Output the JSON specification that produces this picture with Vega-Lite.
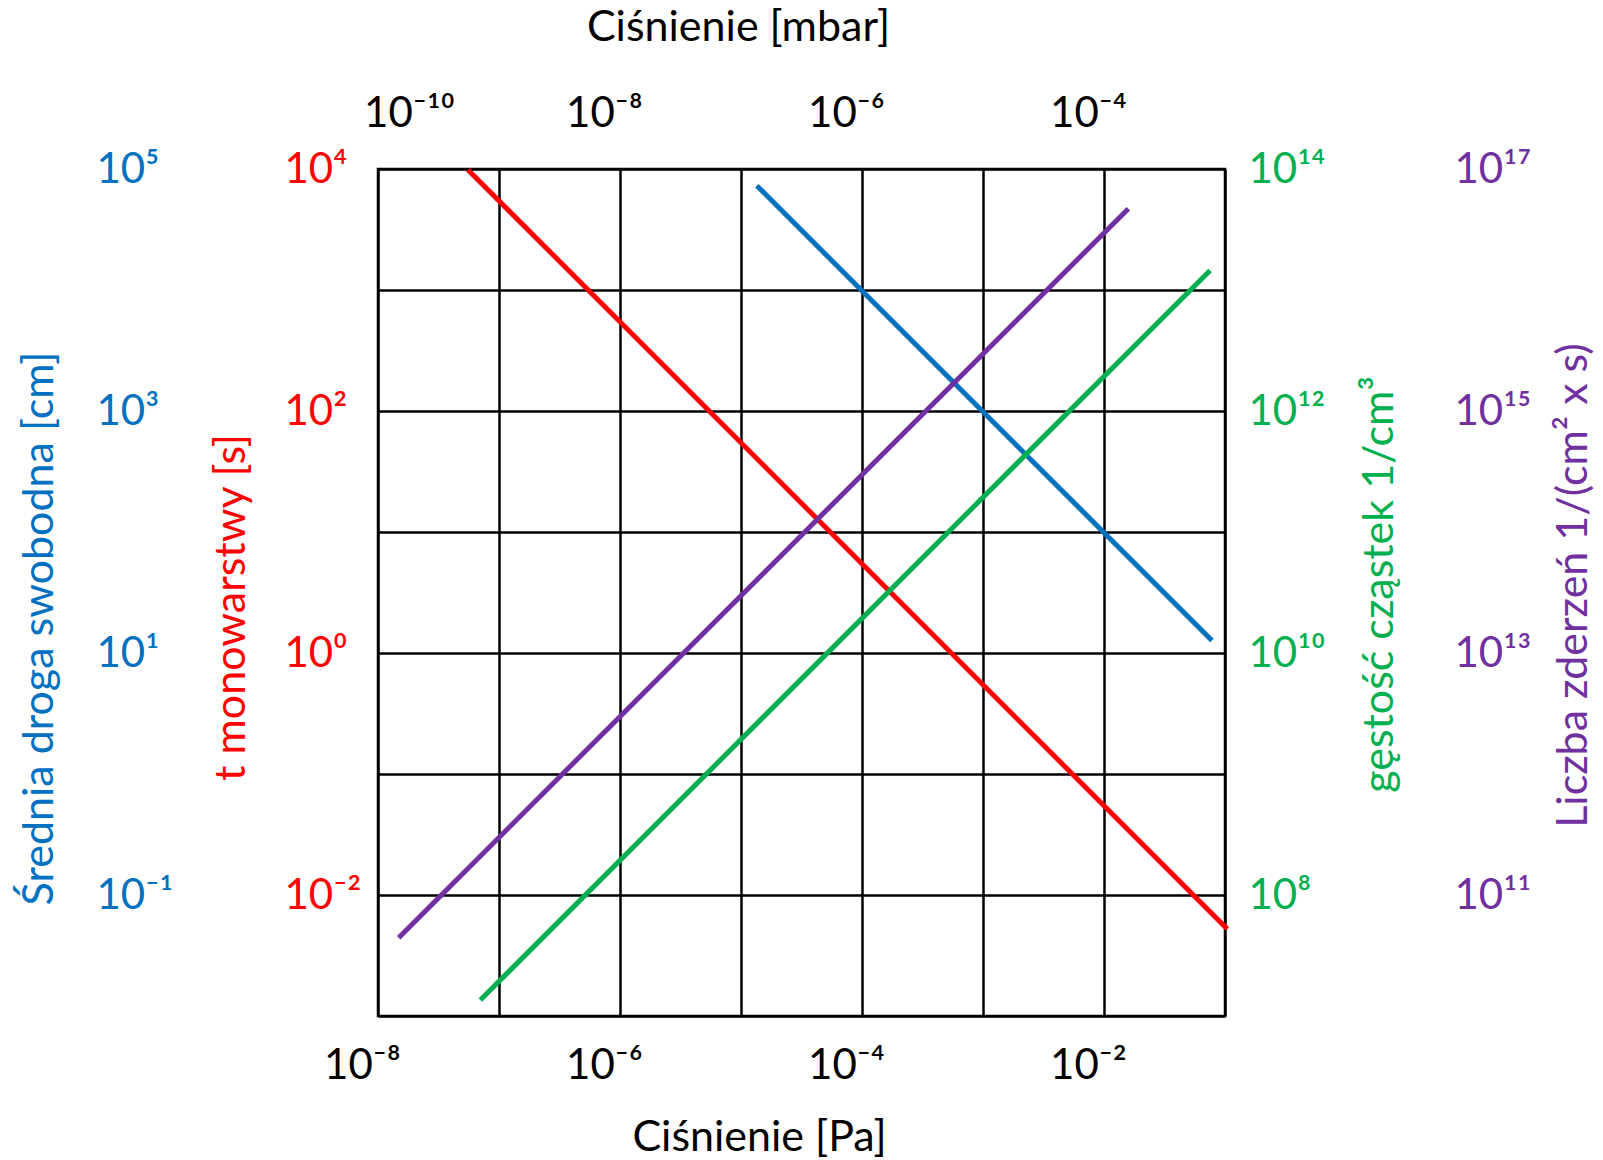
{
  "$schema": "https://vega.github.io/schema/vega-lite/v6.json",
  "width": 847,
  "height": 847,
  "autosize": {"type": "none"},
  "padding": {"left": 378, "top": 169, "right": 378, "bottom": 144},
  "background": "white",
  "config": {
    "view": {"stroke": "black", "strokeWidth": 2.5},
    "axis": {
      "ticks": false, "tickSize": 0, "domain": false,
      "labelFont": "Lato", "labelFontSize": 42,
      "titleFont": "Lato", "titleFontSize": 43, "titleFontWeight": "normal",
      "labelOverlap": false, "labelFlush": false, "labelBound": false,
      "grid": false, "titleAlign": "center", "titleBaseline": "middle",
      "gridColor": "black", "gridWidth": 2.5, "gridOpacity": 1
    }
  },
  "datasets": {
    "blue": [{"p": 1.352e-5, "v": 72800}, {"p": 0.078, "v": 12.68}],
    "red": [{"p": 5.53e-8, "v": 9860}, {"p": 0.1045, "v": 0.00524}],
    "green": [{"p": 7.01e-8, "v": 1.355e7}, {"p": 0.0752, "v": 1.452e13}],
    "purple": [{"p": 1.483e-8, "v": 4.44e10}, {"p": 0.01589, "v": 4.7e16}]
  },
  "layer": [
    {
      "data": {"name": "blue"},
      "mark": {"type": "line", "color": "#0070C0", "strokeWidth": 5, "strokeCap": "butt"},
      "encoding": {
        "x": {"field": "p", "type": "quantitative",
          "scale": {"type": "log", "domain": [1e-8, 0.1], "nice": false},
          "axis": {"orient": "top", "values": [1e-8, 1e-6, 1e-4, 1e-2],
            "labelExpr": "datum.value < 2e-8 ? '10⁻¹⁰' : datum.value < 2e-6 ? '10⁻⁸' : datum.value < 2e-4 ? '10⁻⁶' : '10⁻⁴'",
            "labelBaseline": "middle", "labelPadding": 56, "labelColor": "black",
            "labelOffset": {"condition": {"test": "datum.value < 2e-8", "value": 31}, "value": -16},
            "title": "Ciśnienie [mbar]", "titleColor": "black", "titleX": 360, "titleY": -142}},
        "y": {"field": "v", "type": "quantitative",
          "scale": {"type": "log", "domain": [0.01, 100000], "nice": false},
          "axis": {"orient": "left", "values": [0.1, 10, 1000, 100000],
            "labelExpr": "datum.value < 1 ? '10⁻¹' : datum.value < 100 ? '10¹' : datum.value < 10000 ? '10³' : '10⁵'",
            "labelAlign": "left", "labelPadding": 282, "labelColor": "#0070C0",
            "title": "Średnia droga swobodna [cm]", "titleColor": "#0070C0",
            "titleAngle": 270, "titleX": -339, "titleY": 459}}
      }
    },
    {
      "data": {"name": "red"},
      "mark": {"type": "line", "color": "#FF0000", "strokeWidth": 5, "strokeCap": "butt"},
      "encoding": {
        "x": {"field": "p", "type": "quantitative",
          "scale": {"type": "log", "domain": [1e-8, 0.1], "nice": false},
          "axis": {"orient": "bottom", "values": [1e-8, 1e-7, 1e-6, 1e-5, 1e-4, 1e-3, 1e-2, 1e-1],
            "grid": true,
            "labelExpr": "datum.value < 2e-8 ? '10⁻⁸' : (datum.value > 5e-7 && datum.value < 2e-6) ? '10⁻⁶' : (datum.value > 5e-5 && datum.value < 2e-4) ? '10⁻⁴' : (datum.value > 5e-3 && datum.value < 2e-2) ? '10⁻²' : ''",
            "labelBaseline": "middle", "labelPadding": 49, "labelColor": "black", "labelOffset": -16,
            "title": "Ciśnienie [Pa]", "titleColor": "black", "titleX": 381, "titleY": 121}},
        "y": {"field": "v", "type": "quantitative",
          "scale": {"type": "log", "domain": [0.001, 10000], "nice": false},
          "axis": {"orient": "left", "values": [0.001, 0.01, 0.1, 1, 10, 100, 1000, 10000],
            "grid": true,
            "labelExpr": "datum.value > 5000 ? '10⁴' : (datum.value > 50 && datum.value < 200) ? '10²' : (datum.value > 0.5 && datum.value < 2) ? '10⁰' : (datum.value > 0.005 && datum.value < 0.02) ? '10⁻²' : ''",
            "labelAlign": "left", "labelPadding": 94, "labelColor": "#FF0000",
            "title": "t monowarstwy [s]", "titleColor": "#FF0000",
            "titleAngle": 270, "titleX": -147, "titleY": 438}}
      }
    },
    {
      "data": {"name": "green"},
      "mark": {"type": "line", "color": "#00B050", "strokeWidth": 5, "strokeCap": "butt"},
      "encoding": {
        "x": {"field": "p", "type": "quantitative",
          "scale": {"type": "log", "domain": [1e-8, 0.1], "nice": false}, "axis": null},
        "y": {"field": "v", "type": "quantitative",
          "scale": {"type": "log", "domain": [1e7, 1e14], "nice": false},
          "axis": {"orient": "right", "values": [1e8, 1e10, 1e12, 1e14],
            "labelExpr": "datum.value < 1e9 ? '10⁸' : datum.value < 1e11 ? '10¹⁰' : datum.value < 1e13 ? '10¹²' : '10¹⁴'",
            "labelAlign": "left", "labelPadding": 23, "labelColor": "#00B050",
            "title": "gęstość cząstek 1/cm³", "titleColor": "#00B050",
            "titleAngle": 270, "titleX": 154, "titleY": 415}}
      }
    },
    {
      "data": {"name": "purple"},
      "mark": {"type": "line", "color": "#7030A0", "strokeWidth": 5, "strokeCap": "butt"},
      "encoding": {
        "x": {"field": "p", "type": "quantitative",
          "scale": {"type": "log", "domain": [1e-8, 0.1], "nice": false}, "axis": null},
        "y": {"field": "v", "type": "quantitative",
          "scale": {"type": "log", "domain": [1e10, 1e17], "nice": false},
          "axis": {"orient": "right", "values": [1e11, 1e13, 1e15, 1e17],
            "labelExpr": "datum.value < 1e12 ? '10¹¹' : datum.value < 1e14 ? '10¹³' : datum.value < 1e16 ? '10¹⁵' : '10¹⁷'",
            "labelAlign": "left", "labelPadding": 229, "labelColor": "#7030A0",
            "title": "Liczba zderzeń 1/(cm² x s)", "titleColor": "#7030A0",
            "titleAngle": 270, "titleX": 348, "titleY": 416}}
      }
    }
  ],
  "resolve": {"scale": {"y": "independent"}, "axis": {"x": "independent", "y": "independent"}}
}
